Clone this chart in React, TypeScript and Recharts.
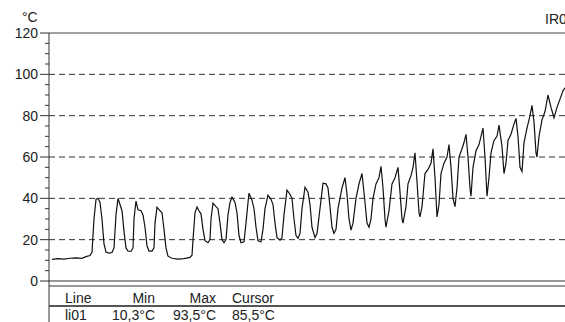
import { LineChart, Line, XAxis, YAxis, ReferenceLine } from 'recharts'

// position along the profile line (pixels of the IR image) and temperature in °C
const positions = [
  3, 9, 15, 21, 27, 33, 37, 41, 43, 45,
  47, 49, 51, 53, 55, 57, 60, 63, 65, 67,
  69, 71, 73, 75, 77, 79, 82, 84, 85, 87,
  89, 92, 94, 96, 98, 100, 103, 105, 106, 108,
  110, 113, 115, 117, 119, 123, 129, 135, 141, 143,
  144, 146, 148, 150, 152, 154, 156, 159, 161, 162,
  164, 167, 169, 171, 173, 175, 177, 179, 181, 183,
  186, 188, 190, 192, 195, 197, 199, 200, 203, 205,
  207, 209, 212, 214, 216, 219, 222, 224, 226, 228,
  231, 233, 235, 238, 241, 243, 245, 247, 249, 251,
  253, 256, 259, 261, 263, 266, 268, 271, 274, 277,
  279, 281, 283, 285, 287, 289, 293, 296, 298, 300,
  302, 304, 307, 310, 313, 316, 318, 320, 322, 324,
  327, 330, 332, 334, 336, 337, 340, 343, 346, 349,
  351, 353, 354, 357, 359, 362, 364, 366, 368, 370,
  371, 373, 376, 379, 382, 384, 386, 388, 390, 392,
  395, 398, 400, 402, 404, 406, 408, 410, 413, 415,
  417, 419, 421, 422, 424, 427, 430, 432, 434, 436,
  438, 440, 442, 445, 448, 450, 453, 455, 457, 459,
  462, 465, 467, 469, 471, 473, 475, 478, 481, 483,
  485, 487, 488, 490, 493, 496, 499, 502, 505, 508,
  511, 514, 516,
]

const temps = [
  10.5, 10.8, 10.6, 11.0, 11.2, 11.0, 11.8, 12.3, 14, 30,
  39.5, 40, 38, 30, 18, 14, 13.5, 13.8, 16, 32,
  40, 37, 34, 24, 16, 14.5, 14.3, 16, 30, 38.7,
  34.5, 34, 32, 26, 17, 14.5, 14.5, 16, 28, 35.7,
  34.5, 33, 25, 16, 12, 11, 10.6, 10.8, 11.4, 12.5,
  20, 33, 35.8, 34, 32.5, 25, 19.5, 18.5, 20, 30,
  37.7, 36, 35, 28, 20, 18.5, 20, 32, 38, 40.6,
  38, 33, 22, 18.5, 19, 28, 38, 42.5, 39, 35,
  26, 19.5, 19, 25, 35, 41.5, 39.5, 37, 28, 21,
  19.8, 21, 32, 44, 42, 40, 30, 22, 20.7, 23,
  35, 45.4, 43, 37, 26, 21, 23, 35, 47.3, 47,
  45, 36, 26, 23, 25, 35, 45, 50, 42, 30,
  24.6, 28, 40, 47, 52, 38, 28, 26, 30, 40,
  47, 50, 55.5, 45, 30, 26, 34, 47, 50, 55,
  43, 30, 28, 36, 47, 51, 55, 62, 48, 33,
  31, 36, 52, 54, 57, 64, 50, 31, 37, 52,
  57, 60, 66, 55, 40, 36, 45, 60, 64, 67,
  71, 60, 45, 41, 55, 63, 66, 70, 74, 60,
  41, 50, 62, 68, 70, 75.4, 65, 52, 57, 68,
  71, 76, 78.7, 70, 55, 53, 67, 74, 80, 85,
  77, 62, 60, 70, 78, 82, 90, 84, 79, 84,
  88, 92, 93.5,
]

const yTicks = [
  0, 5, 10, 15, 20, 25, 30, 35, 40, 45, 50, 55, 60,
  65, 70, 75, 80, 85, 90, 95, 100, 105, 110, 115, 120,
]
const gridValues = [20, 40, 60, 80, 100]

const tableHeader = ['Line', 'Min', 'Max', 'Cursor']
const tableRow = ['li01', '10,3°C', '93,5°C', '85,5°C']
const unitLabel = '°C'
const profileName = 'IR01'

const data = positions.map((pos, i) => ({ pos, temp: temps[i] }))

const FONT = '"Liberation Sans", Arial, sans-serif'

function YTick(props: any) {
  const { x, y, payload } = props
  const major = payload.value % 20 === 0
  return (
    <g>
      <line x1={x - (major ? 9 : 4)} x2={x} y1={y} y2={y} stroke='#333' />
      {major && (
        <text x={x - 11} y={y + 5} textAnchor='end' fontSize={14} fill='#222' fontFamily={FONT}>
          {payload.value}
        </text>
      )}
    </g>
  )
}

export default function App() {
  // column anchors for the legend table under the chart
  const cols = [
    { x: 65, anchor: 'start' },
    { x: 155, anchor: 'end' },
    { x: 216, anchor: 'end' },
    { x: 232, anchor: 'start' },
  ]

  return (
    <div
      style={{
        position: 'absolute',
        left: 0,
        top: 0,
        width: 565,
        height: 322,
        overflow: 'hidden',
        background: '#fff',
        fontFamily: FONT,
      }}
    >
      <LineChart width={565} height={322} data={data} margin={{ top: 33, right: 0, left: 0, bottom: 41 }}>
        <XAxis dataKey='pos' type='number' domain={[0, 516]} hide allowDataOverflow />
        <YAxis
          type='number'
          domain={[0, 120]}
          ticks={yTicks}
          interval={0}
          width={49}
          axisLine={{ stroke: '#333' }}
          tickLine={false}
          tickSize={0}
          tickMargin={0}
          tick={<YTick />}
        />
        {gridValues.map((v) => (
          <ReferenceLine key={v} y={v} stroke='#333' strokeDasharray='6 4' />
        ))}
        <ReferenceLine y={120} stroke='#444' />
        <ReferenceLine y={0} stroke='#333' />
        <Line
          type='linear'
          dataKey='temp'
          stroke='#111'
          strokeWidth={1.2}
          dot={false}
          isAnimationActive={false}
        />
      </LineChart>
      <svg
        width={565}
        height={322}
        style={{ position: 'absolute', left: 0, top: 0, pointerEvents: 'none' }}
        fontFamily={FONT}
        fontSize={14}
        fill='#222'
      >
        <text x={22} y={22}>{unitLabel}</text>
        <text x={545} y={24}>{profileName}</text>
        <line x1={49} x2={565} y1={286} y2={286} stroke='#333' />
        <line x1={49} x2={49} y1={281} y2={322} stroke='#333' />
        <line x1={49} x2={565} y1={306} y2={306} stroke='#555' strokeWidth={2} />
        {tableHeader.map((t, i) => (
          <text key={t} x={cols[i].x} y={303} textAnchor={cols[i].anchor as any}>{t}</text>
        ))}
        {tableRow.map((t, i) => (
          <text key={t} x={cols[i].x} y={320} textAnchor={cols[i].anchor as any}>{t}</text>
        ))}
      </svg>
    </div>
  )
}
